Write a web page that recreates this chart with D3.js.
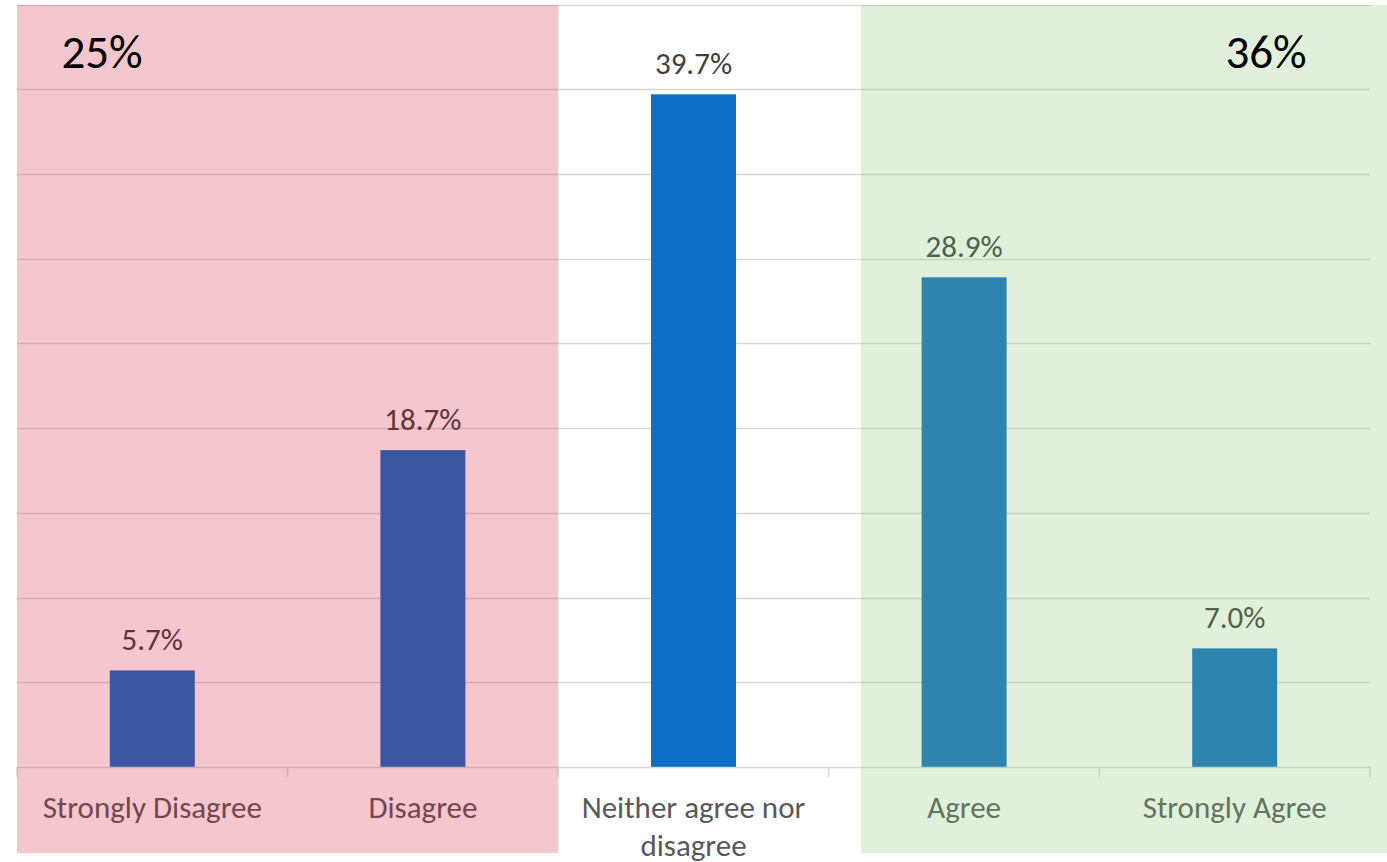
<!DOCTYPE html>
<html>
<head>
<meta charset="utf-8">
<script src="https://cdn.jsdelivr.net/npm/d3@7"></script>
<style>
  html, body { margin: 0; padding: 0; background: #ffffff; }
  svg { display: block; }
  text { font-family: Calibri, Carlito, Lato, sans-serif; }
</style>
</head>
<body>
<svg id="chart" width="1387" height="862"></svg>
<script>
// ---- data ----
const categories = ["Strongly Disagree", "Disagree", "Neither agree nor disagree", "Agree", "Strongly Agree"];
const values = [5.7, 18.7, 39.7, 28.9, 7.0];
const yTicks = [0, 5, 10, 15, 20, 25, 30, 35, 40, 45];
const groupLabels = ["25%", "36%"];

// ---- layout ----
const W = 1387, H = 862;
const plot = { left: 17, right: 1370, top: 4.5, bottom: 767 };

const svg = d3.select("#chart");

const x = d3.scaleBand()
  .domain(categories)
  .range([plot.left, plot.right])
  .paddingInner(0.686)
  .paddingOuter(0.343);

const y = d3.scaleLinear()
  .domain([0, 45])
  .range([plot.bottom, plot.top]);

// gridlines
svg.append("g")
  .selectAll("line")
  .data(yTicks.filter(d => d > 0))
  .join("line")
  .attr("x1", plot.left).attr("x2", plot.right)
  .attr("y1", d => Math.round(y(d)) + 0.5).attr("y2", d => Math.round(y(d)) + 0.5)
  .attr("stroke", "#d9d9d9").attr("stroke-width", 1.3);

// bars
svg.append("g")
  .selectAll("rect")
  .data(values)
  .join("rect")
  .attr("x", (d, i) => x(categories[i]))
  .attr("width", x.bandwidth())
  .attr("y", d => y(d))
  .attr("height", d => y(0) - y(d))
  .attr("fill", "#0F6FC6");

// data labels
svg.append("g")
  .selectAll("text")
  .data(values)
  .join("text")
  .attr("x", (d, i) => x(categories[i]) + x.bandwidth() / 2)
  .attr("y", d => y(d) - 20)
  .attr("text-anchor", "middle")
  .attr("font-size", 31)
  .attr("fill", "#404040")
  .text(d => d.toFixed(1) + "%");

// x axis line and ticks
const step = x.step();
const boundaries = d3.range(categories.length + 1).map(i => plot.left + i * step);
svg.append("line")
  .attr("x1", plot.left).attr("x2", plot.right)
  .attr("y1", plot.bottom + 0.5).attr("y2", plot.bottom + 0.5)
  .attr("stroke", "#d9d9d9").attr("stroke-width", 1.5);
svg.append("g")
  .selectAll("line")
  .data(boundaries)
  .join("line")
  .attr("x1", d => d).attr("x2", d => d)
  .attr("y1", plot.bottom).attr("y2", plot.bottom + 10)
  .attr("stroke", "#d9d9d9").attr("stroke-width", 1.5);

// category labels (wrapped)
const wrapLines = { "Neither agree nor disagree": ["Neither agree nor", "disagree"] };
const catG = svg.append("g");
categories.forEach(c => {
  const lines = wrapLines[c] || [c];
  const t = catG.append("text")
    .attr("x", x(c) + x.bandwidth() / 2)
    .attr("y", 818)
    .attr("text-anchor", "middle")
    .attr("font-size", 31)
    .attr("fill", "#595959");
  lines.forEach((ln, k) => {
    t.append("tspan")
      .attr("x", x(c) + x.bandwidth() / 2)
      .attr("dy", k === 0 ? 0 : 38)
      .text(ln);
  });
});

// translucent overlays for disagree / agree groups
svg.append("rect")
  .attr("x", plot.left)
  .attr("y", 5)
  .attr("width", boundaries[2] - plot.left)
  .attr("height", 848)
  .attr("fill", "rgb(207,9,39)")
  .attr("fill-opacity", 0.23);

svg.append("rect")
  .attr("x", 861)
  .attr("y", 5)
  .attr("width", W - 861)
  .attr("height", 848)
  .attr("fill", "rgb(131,195,107)")
  .attr("fill-opacity", 0.25);

// group totals
svg.append("text")
  .attr("x", 102).attr("y", 68)
  .attr("text-anchor", "middle")
  .attr("font-size", 47)
  .attr("fill", "#000000")
  .text(groupLabels[0]);
svg.append("text")
  .attr("x", 1266).attr("y", 68)
  .attr("text-anchor", "middle")
  .attr("font-size", 47)
  .attr("fill", "#000000")
  .text(groupLabels[1]);
</script>
</body>
</html>
